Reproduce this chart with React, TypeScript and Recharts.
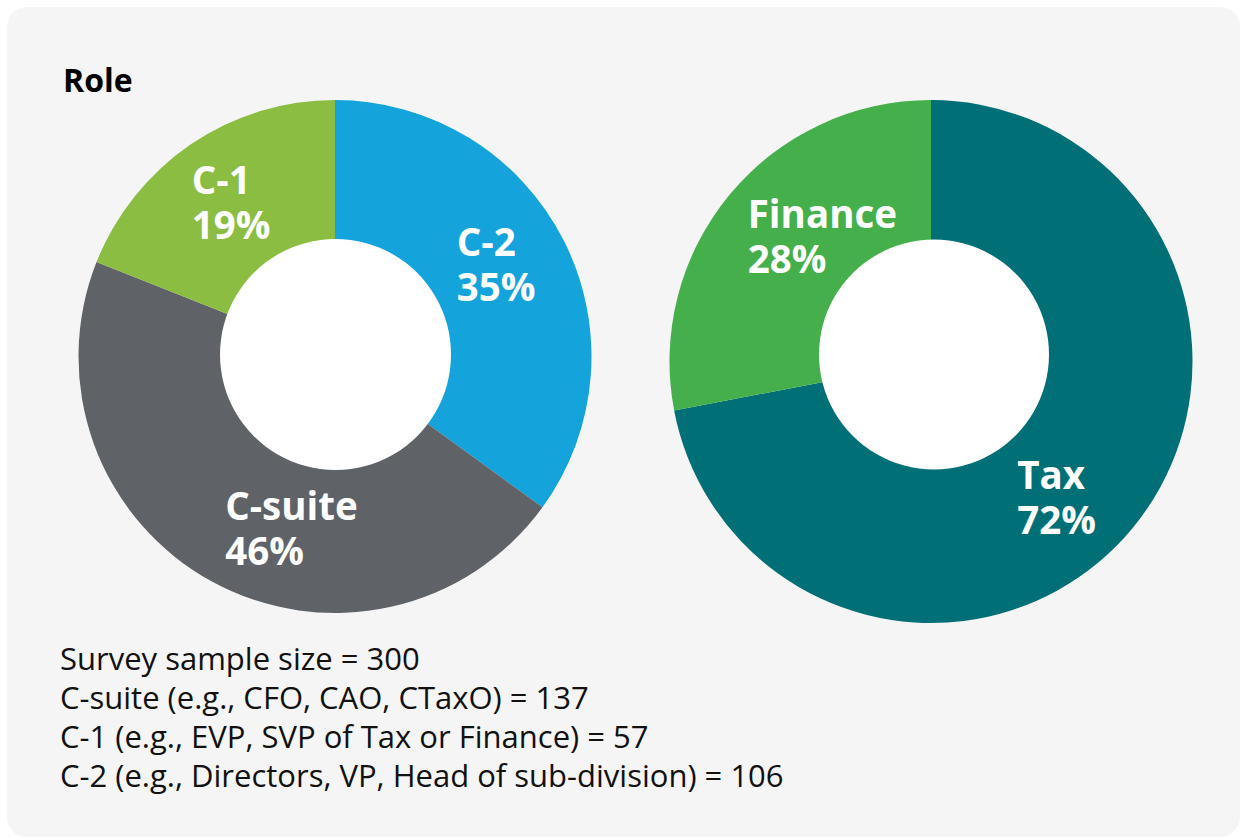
import React from "react";
import { PieChart, Pie, Cell } from "recharts";

// Role split (left donut)
const roleNames = ["C-2", "C-suite", "C-1"];
const roleShares = [35, 46, 19];
const roleColors = ["#15a3dc", "#5f6368", "#8abd41"];

// Function split (right donut)
const functionNames = ["Tax", "Finance"];
const functionShares = [72, 28];
const functionColors = ["#006f76", "#45b04b"];

const footnotes = [
  "Survey sample size = 300",
  "C-suite (e.g., CFO, CAO, CTaxO) = 137",
  "C-1 (e.g., EVP, SVP of Tax or Finance) = 57",
  "C-2 (e.g., Directors, VP, Head of sub-division) = 106",
];

const roleData = roleNames.map((name, i) => ({ name, value: roleShares[i] }));
const functionData = functionNames.map((name, i) => ({
  name,
  value: functionShares[i],
}));
const hole = [{ name: "hole", value: 1 }];

// small per-label nudges from the slice midpoint to the text start
const NUDGE: Record<string, [number, number]> = {
  "C-2": [-37, -20],
  "C-suite": [-24, 7],
  "C-1": [-43, -15],
  Tax: [-53, 12],
  Finance: [-44, -18],
};

const FONT = "'Open Sans', 'Noto Sans', sans-serif";
const RAD = Math.PI / 180;

const SliceLabel = (props: any) => {
  const { cx, cy, midAngle, innerRadius, outerRadius, name, value } = props;
  const r = (innerRadius + outerRadius) / 2;
  const [dx, dy] = NUDGE[name] || [0, 0];
  const x = cx + r * Math.cos(-midAngle * RAD) + dx;
  const y = cy + r * Math.sin(-midAngle * RAD) + dy;
  return (
    <text
      x={x}
      y={y}
      fill="#ffffff"
      textAnchor="start"
      style={{ fontFamily: FONT, fontWeight: 700, fontSize: 38.5 }}
    >
      <tspan x={x} y={y}>
        {name}
      </tspan>
      <tspan x={x} y={y + 45}>
        {value}%
      </tspan>
    </text>
  );
};

export default function App() {
  return (
    <div
      style={{
        position: "absolute",
        left: 0,
        top: 0,
        width: 1244,
        height: 839,
        background: "#ffffff",
        overflow: "hidden",
        fontFamily: FONT,
      }}
    >
      <div
        style={{
          position: "absolute",
          left: 7,
          top: 7,
          width: 1233,
          height: 830,
          background: "#f5f5f5",
          borderRadius: 20,
        }}
      />
      <div
        style={{
          position: "absolute",
          left: 63,
          top: 61.5,
          fontSize: 32,
          lineHeight: "36px",
          fontWeight: 700,
          color: "#000000",
        }}
      >
        Role
      </div>

      <div style={{ position: "absolute", left: 0, top: 0 }}>
        <PieChart
          width={1244}
          height={660}
          margin={{ top: 0, right: 0, bottom: 0, left: 0 }}
        >
          <Pie
            data={roleData}
            dataKey="value"
            nameKey="name"
            cx={335}
            cy={356.5}
            innerRadius={100}
            outerRadius={256.5}
            startAngle={90}
            endAngle={-270}
            stroke="none"
            label={SliceLabel}
            labelLine={false}
            isAnimationActive={false}
          >
            {roleData.map((d, i) => (
              <Cell key={d.name} fill={roleColors[i]} />
            ))}
          </Pie>
          <Pie
            data={hole}
            dataKey="value"
            cx={335.5}
            cy={354.5}
            innerRadius={0}
            outerRadius={115.5}
            stroke="none"
            fill="#ffffff"
            isAnimationActive={false}
          />
          <Pie
            data={functionData}
            dataKey="value"
            nameKey="name"
            cx={931}
            cy={361.5}
            innerRadius={100}
            outerRadius={261.5}
            startAngle={90}
            endAngle={-270}
            stroke="none"
            label={SliceLabel}
            labelLine={false}
            isAnimationActive={false}
          >
            {functionData.map((d, i) => (
              <Cell key={d.name} fill={functionColors[i]} />
            ))}
          </Pie>
          <Pie
            data={hole}
            dataKey="value"
            cx={934}
            cy={354.5}
            innerRadius={0}
            outerRadius={115}
            stroke="none"
            fill="#ffffff"
            isAnimationActive={false}
          />
        </PieChart>
      </div>

      <div
        style={{
          position: "absolute",
          left: 60,
          top: 638.5,
          fontSize: 31,
          lineHeight: "39px",
          color: "#111111",
          whiteSpace: "nowrap",
        }}
      >
        {footnotes.map((t) => (
          <div key={t}>{t}</div>
        ))}
      </div>
    </div>
  );
}
